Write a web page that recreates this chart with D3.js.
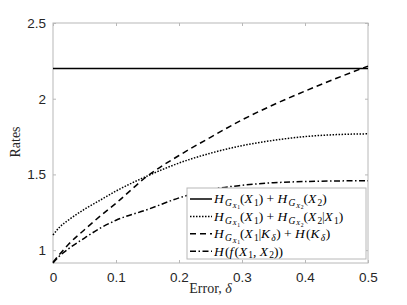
<!DOCTYPE html>
<html>
<head>
<meta charset="utf-8">
<script src="https://cdn.jsdelivr.net/npm/d3@7"></script>
<style>
  body { margin: 0; background: #fff; }
  svg { display: block; }
</style>
</head>
<body>
<div id="chart"></div>
<script>
// error values (delta) and the four rate curves
var delta = [0, 0.01, 0.025, 0.05, 0.075, 0.1, 0.15, 0.2, 0.25, 0.3, 0.35, 0.4, 0.45, 0.5];
var rateSum = [2.2, 2.2, 2.2, 2.2, 2.2, 2.2, 2.2, 2.2, 2.2, 2.2, 2.2, 2.2, 2.2, 2.2];
var rateCond = [1.10, 1.15, 1.20, 1.27, 1.33, 1.39, 1.49, 1.575, 1.64, 1.69, 1.725, 1.75, 1.763, 1.768];
var rateK = [0.92, 0.97, 1.04, 1.135, 1.225, 1.31, 1.49, 1.625, 1.745, 1.86, 1.96, 2.05, 2.135, 2.215];
var rateF = [0.915, 0.96, 1.01, 1.08, 1.145, 1.197, 1.268, 1.345, 1.4, 1.428, 1.445, 1.453, 1.457, 1.458];

var xTicks = [0, 0.1, 0.2, 0.3, 0.4, 0.5];
var yTicks = [1, 1.5, 2, 2.5];

var W = 407, H = 305;
var margin = {top: 23, right: 39, bottom: 42, left: 53};
var w = W - margin.left - margin.right,
    h = H - margin.top - margin.bottom;

var x = d3.scaleLinear().domain([0, 0.5]).range([0, w]);
var y = d3.scaleLinear().domain([0.915, 2.5]).range([h, 0]);

var svg = d3.select("#chart").append("svg")
    .attr("width", W).attr("height", H);
var g = svg.append("g")
    .attr("transform", "translate(" + margin.left + "," + margin.top + ")");

var axisColor = "#b8b8b8", labelColor = "#262626";
var tickFont = "'Liberation Sans', Arial, sans-serif";
var mathFont = "'Liberation Serif', 'DejaVu Serif', serif";

// axes (box with inward ticks on all sides)
function styleAxis(sel) {
    sel.select(".domain").remove();
    sel.selectAll(".tick line").attr("stroke", axisColor);
    sel.selectAll(".tick text").attr("fill", labelColor)
        .style("font-family", tickFont).style("font-size", "13.5px");
}
g.append("g").attr("transform", "translate(0," + h + ")")
    .call(d3.axisBottom(x).tickValues(xTicks).tickSize(-3).tickPadding(9).tickFormat(d3.format("")))
    .call(styleAxis);
g.append("g")
    .call(d3.axisTop(x).tickValues(xTicks).tickSize(-3).tickFormat(""))
    .call(styleAxis);
g.append("g")
    .call(d3.axisLeft(y).tickValues(yTicks).tickSize(-3).tickPadding(7).tickFormat(d3.format("")))
    .call(styleAxis);
g.append("g").attr("transform", "translate(" + w + ",0)")
    .call(d3.axisRight(y).tickValues(yTicks).tickSize(-3).tickFormat(""))
    .call(styleAxis);

g.append("rect").attr("x", 0).attr("y", 0).attr("width", w).attr("height", h)
    .attr("fill", "none").attr("stroke", axisColor).attr("stroke-width", 1);

// curves
var series = [
    {vals: rateSum, dash: null},
    {vals: rateCond, dash: "1.5,1.5"},
    {vals: rateK, dash: "6,4"},
    {vals: rateF, dash: "6,2.5,1.5,2.5"}
];
var line = d3.line()
    .x(function(d, i) { return x(delta[i]); })
    .y(function(d) { return y(d); })
    .curve(d3.curveMonotoneX);

series.forEach(function(s) {
    g.append("path").datum(s.vals)
        .attr("fill", "none").attr("stroke", "#000").attr("stroke-width", 1.5)
        .attr("stroke-dasharray", s.dash)
        .attr("d", line);
});

// legend
var legendItems = [
    [["H","i",0],["G","i",1],["X","i",2],["1","r",3],["(","r",0],["X","i",0],["1","r",1],[")","r",0],[" + ","r",0],
     ["H","i",0],["G","i",1],["X","i",2],["2","r",3],["(","r",0],["X","i",0],["2","r",1],[")","r",0]],
    [["H","i",0],["G","i",1],["X","i",2],["1","r",3],["(","r",0],["X","i",0],["1","r",1],[")","r",0],[" + ","r",0],
     ["H","i",0],["G","i",1],["X","i",2],["2","r",3],["(","r",0],["X","i",0],["2","r",1],["|","r",0],["X","i",0],["1","r",1],[")","r",0]],
    [["H","i",0],["G","i",1],["X","i",2],["1","r",3],["(","r",0],["X","i",0],["1","r",1],["|","r",0],["K","i",0],["δ","i",1],[")","r",0],[" + ","r",0],
     ["H","i",0],["(","r",0],["K","i",0],["δ","i",1],[")","r",0]],
    [["H","i",0],["(","r",0],["f","i",0],["(","r",0],["X","i",0],["1","r",1],[",","r",0],[" ","r",0],["X","i",0],["2","r",1],["))","r",0]]
];
var levelShift = [0, 2.8, 4.6, 5.8], levelSize = [13.5, 9.5, 6.8, 5.6];

var lx = 187 - margin.left, ly = 188 - margin.top;
var legend = g.append("g");
legend.append("rect").attr("x", lx).attr("y", ly).attr("width", 179).attr("height", 71)
    .attr("fill", "#fff").attr("stroke", axisColor).attr("stroke-width", 1);

legendItems.forEach(function(item, k) {
    var cy = ly + 11 + k * 17.4;
    legend.append("line").attr("x1", lx + 3).attr("x2", lx + 25)
        .attr("y1", cy).attr("y2", cy)
        .attr("stroke", "#000").attr("stroke-width", 1.5)
        .attr("stroke-dasharray", series[k].dash);
    var t = legend.append("text").attr("x", lx + 27).attr("y", cy + 4.3)
        .attr("fill", "#000").style("font-family", mathFont);
    var cur = 0, prev = null;
    item.forEach(function(seg) {
        var off = levelShift[seg[2]];
        // small italic correction after a slanted glyph
        var gap = prev && prev[1] == "i" ? (prev[2] == 0 ? 1.2 : 0.6) : 0;
        var size = seg[0] == "|" ? 11.5 : levelSize[seg[2]];
        t.append("tspan").attr("dy", off - cur).attr("dx", gap)
            .style("font-size", size + "px")
            .style("font-style", seg[1] == "i" ? "italic" : "normal")
            .style("white-space", "pre")
            .text(seg[0]);
        prev = seg;
        cur = off;
    });
});

// axis labels
svg.append("text").attr("x", margin.left + w / 2).attr("y", 293)
    .attr("text-anchor", "middle").attr("fill", labelColor)
    .style("font-family", mathFont).style("font-size", "14px")
    .text("Error, ").append("tspan").style("font-style", "italic").text("δ");
svg.append("text").attr("transform", "translate(20,142) rotate(-90)")
    .attr("text-anchor", "middle").attr("fill", labelColor)
    .style("font-family", mathFont).style("font-size", "14px")
    .text("Rates");
</script>
</body>
</html>
